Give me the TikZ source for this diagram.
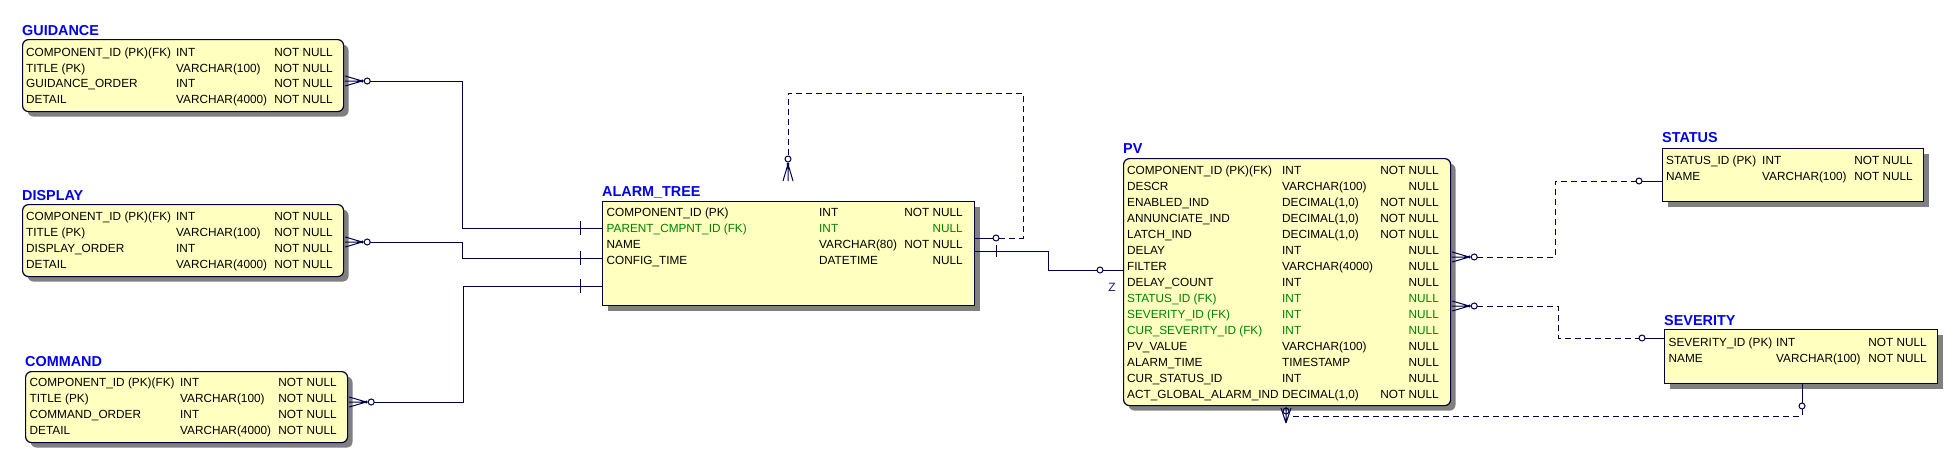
\documentclass[tikz,border=0pt]{standalone}
\usepackage{fontspec}
\setmainfont{Liberation Sans}
\usetikzlibrary{shadows}
\definecolor{boxfill}{HTML}{FFFFC0}
\definecolor{boxline}{HTML}{00003C}
\definecolor{relline}{HTML}{000048}
\definecolor{ttlblue}{HTML}{0000F0}
\definecolor{fkgreen}{HTML}{008000}
\definecolor{shadowgray}{HTML}{808080}
\definecolor{zblue}{HTML}{1A1A80}
\newcommand\ERrow[9][]{%
  \node[cell,#1] (#2-n) at (#4,#3) {#7};
  \node[cell,#1] (#2-t) at (#5,#3) {#8};
  \node[cellr,#1] (#2-u) at (#6,#3) {#9};
}
\begin{document}
\begin{tikzpicture}[x=1pt,y=-1pt,
  tbl/.style={draw=boxline, line width=1.2pt, fill=boxfill, inner sep=0pt, anchor=north west,
    general shadow={fill=shadowgray, shadow xshift=5pt, shadow yshift=-5pt}},
  rtbl/.style={tbl, rounded corners=6pt},
  ttl/.style={font=\fontsize{14.4}{15}\selectfont\bfseries, text=ttlblue, anchor=base west, inner sep=0pt},
  cell/.style={font=\fontsize{11.8}{12}\selectfont, anchor=base west, inner sep=0pt},
  cellr/.style={cell, anchor=base east},
  fk/.style={text=fkgreen},
  rel/.style={draw=relline, line width=1pt},
  reld/.style={rel, dash pattern=on 6pt off 4pt},
  circ/.style={rel, fill=white},
  crowR/.pic={
    \draw[rel] (1,-5) -- (18,0) (1,5) -- (18,0) (1,0) -- (18,0);
    \fill[relline] (18,0) circle (1.6pt);
    \draw[circ] (23,0) circle (3pt);
  }]
\fill[white] (0,0) rectangle (1959,464);
\useasboundingbox (0,0) rectangle (1959,464);

% ---------- GUIDANCE ----------
\node[rtbl, minimum width=321pt, minimum height=72pt] (guid) at (22,39) {};
\node[ttl] (guid-ttl) at (22,35) {GUIDANCE};
\ERrow{g1}{56}{26}{176}{333}{COMPONENT\_ID (PK)(FK)}{INT}{NOT NULL}
\ERrow{g2}{72}{26}{176}{333}{TITLE (PK)}{VARCHAR(100)}{NOT NULL}
\ERrow{g3}{87.5}{26}{176}{333}{GUIDANCE\_ORDER}{INT}{NOT NULL}
\ERrow{g4}{103.5}{26}{176}{333}{DETAIL}{VARCHAR(4000)}{NOT NULL}

% ---------- DISPLAY ----------
\node[rtbl, minimum width=321pt, minimum height=72pt] (disp) at (22,204) {};
\node[ttl] (disp-ttl) at (22,200) {DISPLAY};
\ERrow{d1}{220}{26}{176}{333}{COMPONENT\_ID (PK)(FK)}{INT}{NOT NULL}
\ERrow{d2}{236.5}{26}{176}{333}{TITLE (PK)}{VARCHAR(100)}{NOT NULL}
\ERrow{d3}{252.5}{26}{176}{333}{DISPLAY\_ORDER}{INT}{NOT NULL}
\ERrow{d4}{268.3}{26}{176}{333}{DETAIL}{VARCHAR(4000)}{NOT NULL}

% ---------- COMMAND ----------
\node[rtbl, minimum width=322pt, minimum height=71pt] (cmd) at (25,371) {};
\node[ttl] (cmd-ttl) at (25,366) {COMMAND};
\ERrow{c1}{386.5}{29.5}{180}{337}{COMPONENT\_ID (PK)(FK)}{INT}{NOT NULL}
\ERrow{c2}{402.3}{29.5}{180}{337}{TITLE (PK)}{VARCHAR(100)}{NOT NULL}
\ERrow{c3}{418.3}{29.5}{180}{337}{COMMAND\_ORDER}{INT}{NOT NULL}
\ERrow{c4}{434.3}{29.5}{180}{337}{DETAIL}{VARCHAR(4000)}{NOT NULL}

% ---------- ALARM_TREE ----------
\node[tbl, minimum width=372pt, minimum height=104pt] (alarm) at (602,201) {};
\node[ttl] (alarm-ttl) at (602,196) {ALARM\_TREE};
\ERrow{a1}{216.7}{606.5}{819}{963}{COMPONENT\_ID (PK)}{INT}{NOT NULL}
\ERrow[fk]{a2}{232.7}{606.5}{819}{963}{PARENT\_CMPNT\_ID (FK)}{INT}{NULL}
\ERrow{a3}{248.7}{606.5}{819}{963}{NAME}{VARCHAR(80)}{NOT NULL}
\ERrow{a4}{264.7}{606.5}{819}{963}{CONFIG\_TIME}{DATETIME}{NULL}

% ---------- PV ----------
\node[rtbl, minimum width=327pt, minimum height=247pt] (pv) at (1123,158) {};
\node[ttl] (pv-ttl) at (1123,153) {PV};
\ERrow{p1}{174}{1127}{1282}{1439}{COMPONENT\_ID (PK)(FK)}{INT}{NOT NULL}
\ERrow{p2}{190}{1127}{1282}{1439}{DESCR}{VARCHAR(100)}{NULL}
\ERrow{p3}{206}{1127}{1282}{1439}{ENABLED\_IND}{DECIMAL(1,0)}{NOT NULL}
\ERrow{p4}{222}{1127}{1282}{1439}{ANNUNCIATE\_IND}{DECIMAL(1,0)}{NOT NULL}
\ERrow{p5}{238}{1127}{1282}{1439}{LATCH\_IND}{DECIMAL(1,0)}{NOT NULL}
\ERrow{p6}{254}{1127}{1282}{1439}{DELAY}{INT}{NULL}
\ERrow{p7}{270}{1127}{1282}{1439}{FILTER}{VARCHAR(4000)}{NULL}
\ERrow{p8}{286}{1127}{1282}{1439}{DELAY\_COUNT}{INT}{NULL}
\ERrow[fk]{p9}{302}{1127}{1282}{1439}{STATUS\_ID (FK)}{INT}{NULL}
\ERrow[fk]{p10}{318}{1127}{1282}{1439}{SEVERITY\_ID (FK)}{INT}{NULL}
\ERrow[fk]{p11}{334}{1127}{1282}{1439}{CUR\_SEVERITY\_ID (FK)}{INT}{NULL}
\ERrow{p12}{350}{1127}{1282}{1439}{PV\_VALUE}{VARCHAR(100)}{NULL}
\ERrow{p13}{366}{1127}{1282}{1439}{ALARM\_TIME}{TIMESTAMP}{NULL}
\ERrow{p14}{382}{1127}{1282}{1439}{CUR\_STATUS\_ID}{INT}{NULL}
\ERrow{p15}{398}{1127}{1282}{1439}{ACT\_GLOBAL\_ALARM\_IND}{DECIMAL(1,0)}{NOT NULL}

% ---------- STATUS ----------
\node[tbl, minimum width=261pt, minimum height=53pt] (status) at (1662,148) {};
\node[ttl] (status-ttl) at (1662,142.7) {STATUS};
\ERrow{s1}{164.3}{1666}{1762}{1913}{STATUS\_ID (PK)}{INT}{NOT NULL}
\ERrow{s2}{180}{1666}{1762}{1913}{NAME}{VARCHAR(100)}{NOT NULL}

% ---------- SEVERITY ----------
\node[tbl, minimum width=273pt, minimum height=54pt] (sev) at (1664,329) {};
\node[ttl] (sev-ttl) at (1664,325) {SEVERITY};
\ERrow{v1}{346.7}{1668.5}{1776}{1927}{SEVERITY\_ID (PK)}{INT}{NOT NULL}
\ERrow{v2}{362.3}{1668.5}{1776}{1927}{NAME}{VARCHAR(100)}{NOT NULL}

% ---------- helper levels ----------
\coordinate (L81) at (0,81);
\coordinate (L242) at (0,242);
\coordinate (L402) at (0,402);
\coordinate (L228) at (0,228);
\coordinate (L258) at (0,258);
\coordinate (L286) at (0,286);
\coordinate (L238) at (0,238);
\coordinate (L251) at (0,251);
\coordinate (L270) at (0,270);
\coordinate (L257) at (0,257);
\coordinate (L306) at (0,306);
\coordinate (L181) at (0,181);
\coordinate (L338) at (0,338);
\coordinate (X1802) at (1802,0);
\coordinate (selfend) at (788,182);
\coordinate (pvfoot) at (1286,407);

% ---------- GUIDANCE -> ALARM_TREE ----------
\pic at (guid.east |- L81) {crowR};
\draw[rel] (guid.east |- L81) ++(26,0) -- (462,81) -- (462,228) -- (alarm.west |- L228);
\draw[rel] (580,221) -- (580,235);

% ---------- DISPLAY -> ALARM_TREE ----------
\pic at (disp.east |- L242) {crowR};
\draw[rel] (disp.east |- L242) ++(26,0) -- (462,242) -- (462,258) -- (alarm.west |- L258);
\draw[rel] (580,251) -- (580,265);

% ---------- COMMAND -> ALARM_TREE ----------
\pic at (cmd.east |- L402) {crowR};
\draw[rel] (cmd.east |- L402) ++(26,0) -- (463,402) -- (463,286) -- (alarm.west |- L286);
\draw[rel] (580,279) -- (580,293);

% ---------- ALARM_TREE self relation ----------
\draw[rel] (alarm.east |- L238) -- (993,238);
\draw[circ] (996,238) circle (3pt);
\draw[reld] (999,238) -- (1023,238) -- (1023,93) -- (788,93) -- (788,157);
\pic[rotate=90] at (selfend) {crowR};

% ---------- ALARM_TREE -> PV ----------
\draw[rel] (alarm.east |- L251) -- (1048,251) -- (1048,270) -- (1097,270);
\draw[rel] (996,245) -- (996,257);
\draw[circ] (1100,270) circle (3pt);
\draw[rel] (1103,270) -- (pv.west |- L270);
\node[font=\fontsize{12}{12}\selectfont, text=zblue, inner sep=0pt] (zlbl) at (1112,287) {Z};

% ---------- PV -> STATUS ----------
\pic at (pv.east |- L257) {crowR};
\draw[reld] (pv.east |- L257) ++(26,0) -- (1555,257) -- (1555,181) -- (1636,181);
\draw[circ] (1639,181) circle (3pt);
\draw[rel] (1642,181) -- (status.west |- L181);

% ---------- PV -> SEVERITY ----------
\pic at (pv.east |- L306) {crowR};
\draw[reld] (pv.east |- L306) ++(26,0) -- (1558,306) -- (1558,338) -- (1639,338);
\draw[circ] (1642,338) circle (3pt);
\draw[rel] (1645,338) -- (sev.west |- L338);

% ---------- SEVERITY -> PV (bottom) ----------
\draw[rel] (sev.south -| X1802) -- (1802,403);
\draw[circ] (1802,406) circle (3pt);
\draw[reld] (1802,409) -- (1802,416) -- (1291,416);
\draw[rel] (pvfoot) ++(-5,1) -- (1286,423) (pvfoot) ++(5,1) -- (1286,423) (pvfoot) -- (1286,423);
\draw[rel] (1286,411) circle (3pt);
\end{tikzpicture}
\end{document}
